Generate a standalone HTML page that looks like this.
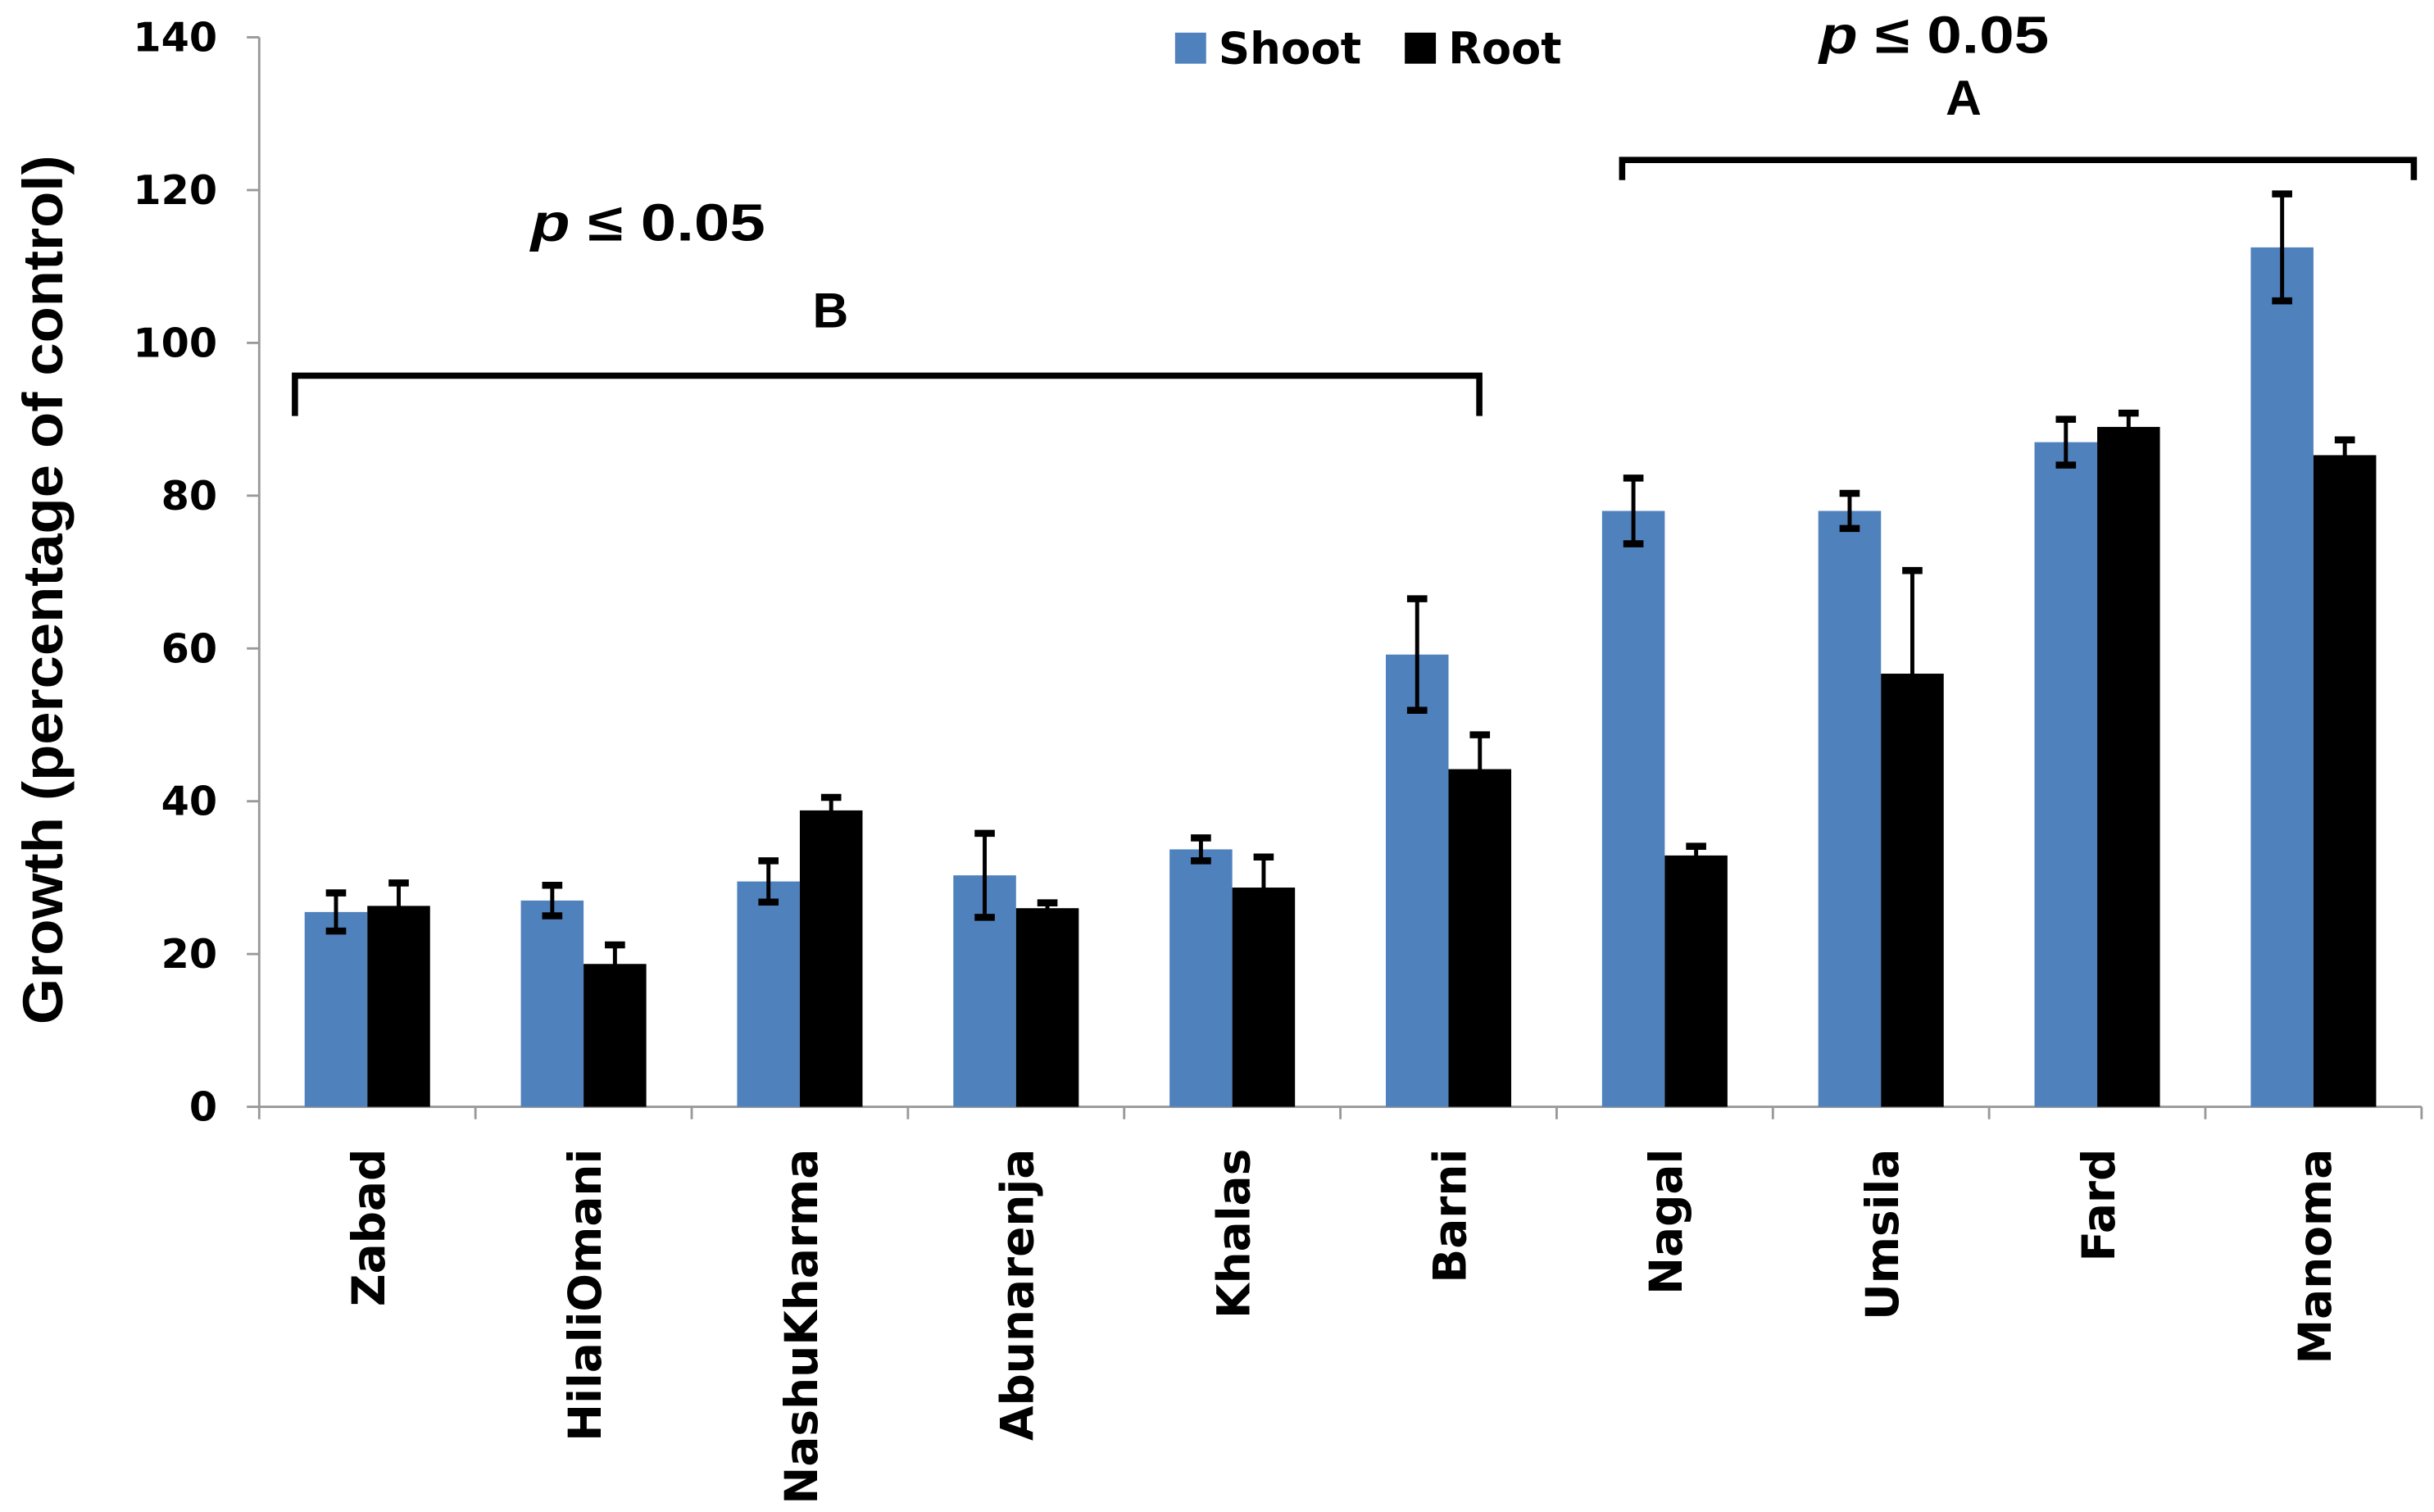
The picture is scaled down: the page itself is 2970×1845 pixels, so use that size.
<!DOCTYPE html>
<html><head><meta charset="utf-8">
<style>
html,body{margin:0;padding:0;background:#fff;}
svg{display:block;}
text{font-family:"DejaVu Sans","Liberation Sans",sans-serif;font-weight:bold;fill:#000;}
.narrow{font-family:"Liberation Sans Narrow","Liberation Sans",sans-serif;}
</style></head>
<body>
<svg id="chart" width="2970" height="1845" viewBox="0 0 1568 974" xmlns="http://www.w3.org/2000/svg">
<g id="axes"></g>
<g id="bars"></g>
<g>
  <rect x="757" y="21" width="20" height="20" fill="#4f81bd"/>
  <text x="785" y="41" font-size="28" textLength="92" lengthAdjust="spacingAndGlyphs">Shoot</text>
  <rect x="905" y="21" width="20" height="20" fill="#000"/>
  <text x="933" y="41" font-size="28" textLength="73" lengthAdjust="spacingAndGlyphs">Root</text>
</g>
<g>
  <text class="narrow" x="342" y="155" font-size="34" textLength="151" lengthAdjust="spacingAndGlyphs"><tspan font-style="italic">p</tspan> ≤  0.05</text>
  <text class="narrow" x="535" y="211" font-size="32" text-anchor="middle">B</text>
  <path d="M190,268 V242 H953 V268" fill="none" stroke="#000" stroke-width="4"/>
</g>
<g>
  <text class="narrow" x="1172" y="34" font-size="34" textLength="148" lengthAdjust="spacingAndGlyphs"><tspan font-style="italic">p</tspan> ≤  0.05</text>
  <text class="narrow" x="1265" y="74" font-size="32" text-anchor="middle">A</text>
  <path d="M1045,116 V103 H1555 V116" fill="none" stroke="#000" stroke-width="4"/>
</g>
<text class="narrow" transform="translate(40,380) rotate(-90)" font-size="36" text-anchor="middle" textLength="560" lengthAdjust="spacingAndGlyphs">Growth  (percentage of control)</text>
</svg>
<script>
const categories = ["Zabad","HilaliOmani","NashuKharma","Abunarenja","Khalas","Barni","Nagal","Umsila","Fard","Manoma"];
const shootValues = [25.5,27,29.5,30.3,33.7,59.2,78,78,87,112.5];
const shootErrors = [2.5,2,2.7,5.5,1.5,7.3,4.3,2.3,3,7];
const rootValues = [26.3,18.7,38.8,26,28.7,44.2,32.9,56.7,89,85.3];
const rootErrors = [3,2.5,1.7,0.7,4,4.5,1.2,13.5,1.8,2];
const yTicks = [0,20,40,60,80,100,120,140];

const NS = "http://www.w3.org/2000/svg";
const X0 = 167, X1 = 1560, Y0 = 713, YTOP = 24, YMAX = 140;
const step = (X1 - X0) / categories.length;
const barW = step * 0.29;
function y(v){ return Y0 - (v / YMAX) * (Y0 - YTOP); }
function xc(i){ return X0 + step * (i + 0.5); }
function mk(tag, attrs, parent){
  const e = document.createElementNS(NS, tag);
  for (const k in attrs) e.setAttribute(k, attrs[k]);
  parent.appendChild(e);
  return e;
}
const axes = document.getElementById('axes');
const bars = document.getElementById('bars');

let ax = mk('line', {x1:X0, y1:YTOP, x2:X0, y2:Y0, stroke:'#999', 'stroke-width':1.5}, axes);


let bx = mk('line', {x1:X0, y1:Y0, x2:X1, y2:Y0, stroke:'#999', 'stroke-width':1.5}, axes);



yTicks.forEach(t => {
  const tk = mk('line', {x1:X0-8, y1:y(t), x2:X0, y2:y(t), stroke:'#999', 'stroke-width':1.5}, axes);
  
  
  const tl = mk('text', {x:X0-27, y:y(t)+9, 'font-size':26, 'text-anchor':'end'}, axes);
  tl.textContent = t;
  
  
});
for (let i = 0; i <= categories.length; i++) {
  const tk = mk('line', {x1:X0+step*i, y1:Y0, x2:X0+step*i, y2:Y0+8, stroke:'#999', 'stroke-width':1.5}, axes);
  
  
}
categories.forEach((c, i) => {
  const tl = mk('text', {transform:`translate(${xc(i)+11},740) rotate(-90)`, 'font-size':29, 'text-anchor':'end'}, axes);
  tl.textContent = c;
  
  
});

function errBar(cx, v, e){
  const g = mk('g', {}, bars);
  
  
  mk('line', {x1:cx, y1:y(v+e), x2:cx, y2:y(v-e), stroke:'#000', 'stroke-width':2.6}, g);
  mk('line', {x1:cx-6.5, y1:y(v+e), x2:cx+6.5, y2:y(v+e), stroke:'#000', 'stroke-width':4.5}, g);
  mk('line', {x1:cx-6.5, y1:y(v-e), x2:cx+6.5, y2:y(v-e), stroke:'#000', 'stroke-width':4.5}, g);
}
categories.forEach((c, i) => {
  const sx = xc(i) - barW;
  const sb = mk('rect', {x:sx, y:y(shootValues[i]), width:barW, height:Y0 - y(shootValues[i]), fill:'#4f81bd'}, bars);
  
  
  const rb = mk('rect', {x:xc(i), y:y(rootValues[i]), width:barW, height:Y0 - y(rootValues[i]), fill:'#000'}, bars);
  
  
});
categories.forEach((c, i) => {
  errBar(xc(i) - barW/2, shootValues[i], shootErrors[i]);
  errBar(xc(i) + barW/2, rootValues[i], rootErrors[i]);
});
</script>
</body></html>
